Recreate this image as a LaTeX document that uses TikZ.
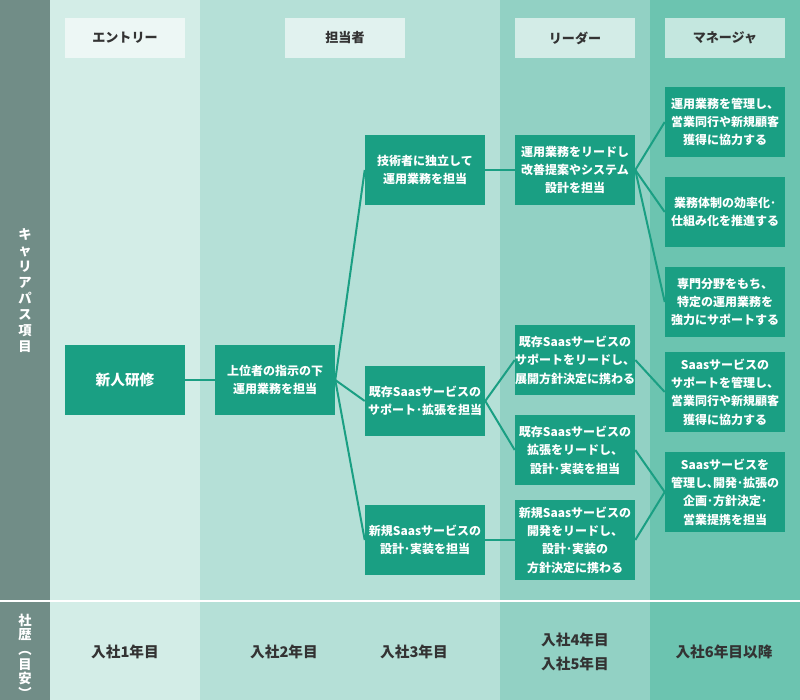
\documentclass[tikz,border=0pt]{standalone}
\usepackage{fontspec}
\newfontfamily\jp{Noto Sans CJK JP}
\usetikzlibrary{positioning}

\definecolor{sidegray}{HTML}{718D87}
\definecolor{colentry}{HTML}{D3EDE7}
\definecolor{colstaff}{HTML}{B5E0D7}
\definecolor{colleader}{HTML}{92D1C4}
\definecolor{colmanager}{HTML}{6CC4B0}
\definecolor{boxgreen}{HTML}{1A9F83}
\definecolor{headtext}{HTML}{333333}

\tikzset{
  stagebox/.style={fill=boxgreen, text=white, inner sep=0pt,
    minimum width=90pt, minimum height=52.5pt, align=center,
    font=\jp\bfseries\fontsize{9}{13.8}\selectfont},
  tallbox/.style={stagebox, minimum height=60pt},
  headbox/.style={fill=white, fill opacity=0.6, text opacity=1, text=headtext,
    inner sep=0pt, minimum width=90pt, minimum height=30pt,
    font=\jp\bfseries\fontsize{9.8}{12}\selectfont},
  yearlabel/.style={text=headtext, font=\jp\bfseries\fontsize{11}{13}\selectfont},
  sidelabel/.style={text=white, align=center, inner sep=0pt,
    font=\jp\bfseries\fontsize{10}{12}\selectfont},
  link/.style={boxgreen, line width=1.5pt},
}

\begin{document}
\begin{tikzpicture}[x=0.75pt, y=-0.75pt]
\useasboundingbox (0,0) rectangle (800,700);

% Column bands
\fill[sidegray] (0,0) rectangle (50,700);
\fill[colentry] (50,0) rectangle (200,700);
\fill[colstaff] (200,0) rectangle (500,700);
\fill[colleader] (500,0) rectangle (650,700);
\fill[colmanager] (650,0) rectangle (800,700);
\draw[white, line width=1.5pt] (0,601) -- (800,601);

% Column headers
\node[headbox] (hentry) at (125,38) {エントリー};
\node[headbox] (hstaff) at (345,38) {担当者};
\node[headbox] (hleader) at (575,38) {リーダー};
\node[headbox] (hmanager) at (725,38) {マネージャ};

% Side labels
\node[sidelabel] (sidecareer) at (25,291)
  {キ\\ャ\\リ\\ア\\パ\\ス\\項\\目};
\node[sidelabel, font=\jp\bfseries\fontsize{10}{11}\selectfont] (sideyears) at (25,656)
  {社\\歴\\︵\\目\\安\\︶};

% Entry and staff stages
\node[stagebox, font=\jp\bfseries\fontsize{11}{14}\selectfont] (intro) at (125,380) {新人研修};
\node[stagebox] (underlead) at (275,380) {上位者の指示の下\\運用業務を担当};
\node[stagebox] (opsindep) at (425,170) {技術者に独立して\\運用業務を担当};
\node[stagebox] (saassupport) at (425,401) {既存Saasサービスの\\サポート･拡張を担当};
\node[stagebox] (saasnew) at (425,540) {新規Saasサービスの\\設計･実装を担当};

% Leader stages
\node[stagebox] (leadops) at (575,170) {運用業務をリードし\\改善提案やシステム\\設計を担当};
\node[stagebox] (leadsupport) at (575,360) {既存Saasサービスの\\サポートをリードし、\\展開方針決定に携わる};
\node[stagebox] (leadextend) at (575,450) {既存Saasサービスの\\拡張をリードし、\\設計･実装を担当};
\node[tallbox] (leadnew) at (575,540) {新規Saasサービスの\\開発をリードし、\\設計･実装の\\方針決定に携わる};

% Manager stages
\node[stagebox] (mgrops) at (725,122) {運用業務を管理し、\\営業同行や新規顧客\\獲得に協力する};
\node[stagebox] (mgrflow) at (725,212) {業務体制の効率化･\\仕組み化を推進する};
\node[stagebox] (mgrexpert) at (725,302) {専門分野をもち、\\特定の運用業務を\\強力にサポートする};
\node[tallbox] (mgrsupport) at (725,392) {Saasサービスの\\サポートを管理し、\\営業同行や新規顧客\\獲得に協力する};
\node[tallbox] (mgrdevelop) at (725,492) {Saasサービスを\\管理し､開発･拡張の\\企画･方針決定･\\営業提携を担当};

% Connectors
\draw[link] (intro.east) -- (underlead.west);
\draw[link] (underlead.east) -- (opsindep.west);
\draw[link] (underlead.east) -- (saassupport.west);
\draw[link] (underlead.east) -- (saasnew.west);
\draw[link] (opsindep.east) -- (leadops.west);
\draw[link] (saassupport.east) -- (leadsupport.west);
\draw[link] (saassupport.east) -- (leadextend.west);
\draw[link] (saasnew.east) -- (leadnew.west);
\draw[link] (leadops.east) -- (mgrops.west);
\draw[link] (leadops.east) -- (mgrflow.west);
\draw[link] (leadops.east) -- (mgrexpert.west);
\draw[link] (leadsupport.east) -- (mgrsupport.west);
\draw[link] (leadextend.east) -- (mgrdevelop.west);
\draw[link] (leadnew.east) -- (mgrdevelop.west);

% Years in company
\node[yearlabel] (year1) at (125,652) {入社1年目};
\node[yearlabel] (year2) at (284,652) {入社2年目};
\node[yearlabel] (year3) at (414,652) {入社3年目};
\node[yearlabel] (year4) at (575,640) {入社4年目};
\node[yearlabel] (year5) at (575,664) {入社5年目};
\node[yearlabel] (year6) at (724,652) {入社6年目以降};
\end{tikzpicture}
\end{document}
